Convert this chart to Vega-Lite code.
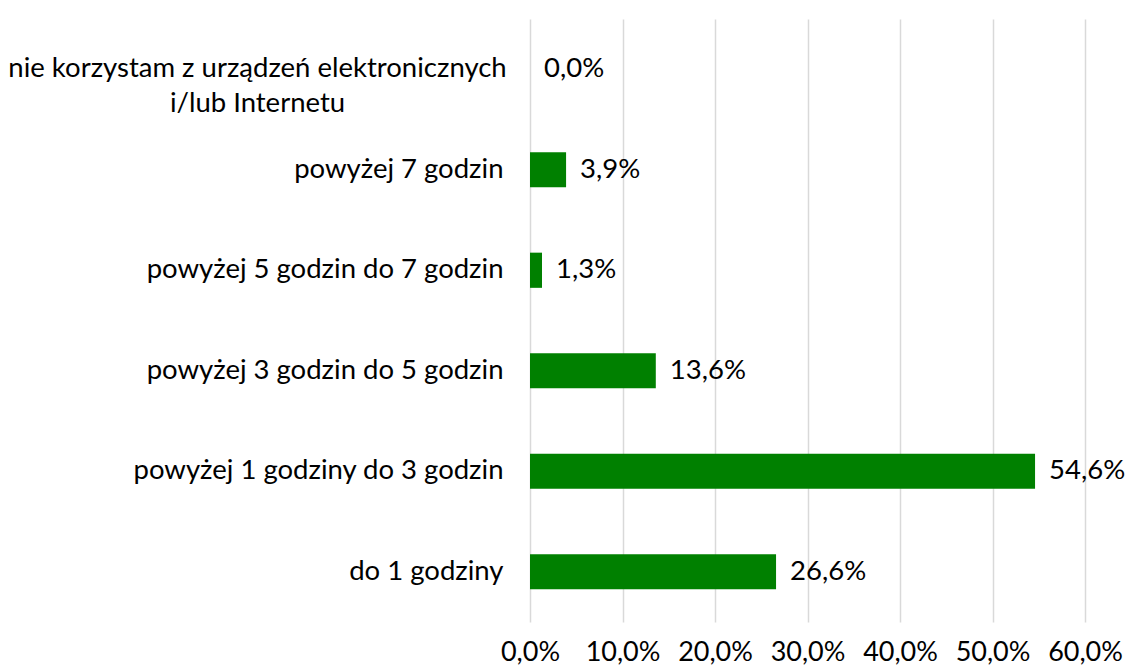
{
  "$schema": "https://vega.github.io/schema/vega-lite/v6.json",
  "width": 555,
  "height": 603,
  "autosize": {"type": "none"},
  "padding": {"left": 530, "top": 19, "right": 41, "bottom": 46},
  "config": {
    "locale": {"number": {"decimal": ",", "thousands": " ", "grouping": [3], "currency": ["", " zł"]}},
    "view": {"stroke": null},
    "font": "Lato"
  },
  "data": {
    "values": [
      {"kategoria": "nie korzystam z urządzeń elektronicznych|i/lub Internetu", "udzial": 0.0},
      {"kategoria": "powyżej 7 godzin", "udzial": 0.039},
      {"kategoria": "powyżej 5 godzin do 7 godzin", "udzial": 0.013},
      {"kategoria": "powyżej 3 godzin do 5 godzin", "udzial": 0.136},
      {"kategoria": "powyżej 1 godziny do 3 godzin", "udzial": 0.546},
      {"kategoria": "do 1 godziny", "udzial": 0.266}
    ]
  },
  "encoding": {
    "y": {
      "field": "kategoria",
      "type": "nominal",
      "sort": null,
      "scale": {"paddingInner": 0.65, "paddingOuter": 0.325},
      "axis": {
        "title": null,
        "domain": false,
        "ticks": false,
        "labelFont": "Lato",
        "labelFontSize": 27.5,
        "labelColor": "#000000",
        "labelLimit": 0,
        "labelLineHeight": 35,
        "labelBaseline": "middle",
        "labelAlign": {"condition": {"test": "indexof(datum.value, '|') >= 0", "value": "center"}, "value": "right"},
        "labelPadding": {"condition": {"test": "indexof(datum.value, '|') >= 0", "value": 273}, "value": 27},
        "labelExpr": "split(datum.value, '|')"
      }
    },
    "x": {
      "field": "udzial",
      "type": "quantitative",
      "scale": {"domain": [0, 0.6], "nice": false},
      "axis": {
        "title": null,
        "values": [0, 0.1, 0.2, 0.3, 0.4, 0.5, 0.6],
        "format": ".1%",
        "domain": false,
        "ticks": false,
        "grid": true,
        "gridColor": "#d9d9d9",
        "gridWidth": 1.5,
        "labelFont": "Lato",
        "labelFontSize": 27,
        "labelColor": "#000000",
        "labelPadding": 17,
        "labelFlush": false
      }
    }
  },
  "layer": [
    {"mark": {"type": "bar", "color": "#008000"}},
    {
      "mark": {"type": "text", "align": "left", "baseline": "middle", "dx": 14, "font": "Lato", "fontSize": 27.5, "color": "#000000"},
      "encoding": {"text": {"field": "udzial", "type": "quantitative", "format": ".1%"}}
    }
  ]
}
